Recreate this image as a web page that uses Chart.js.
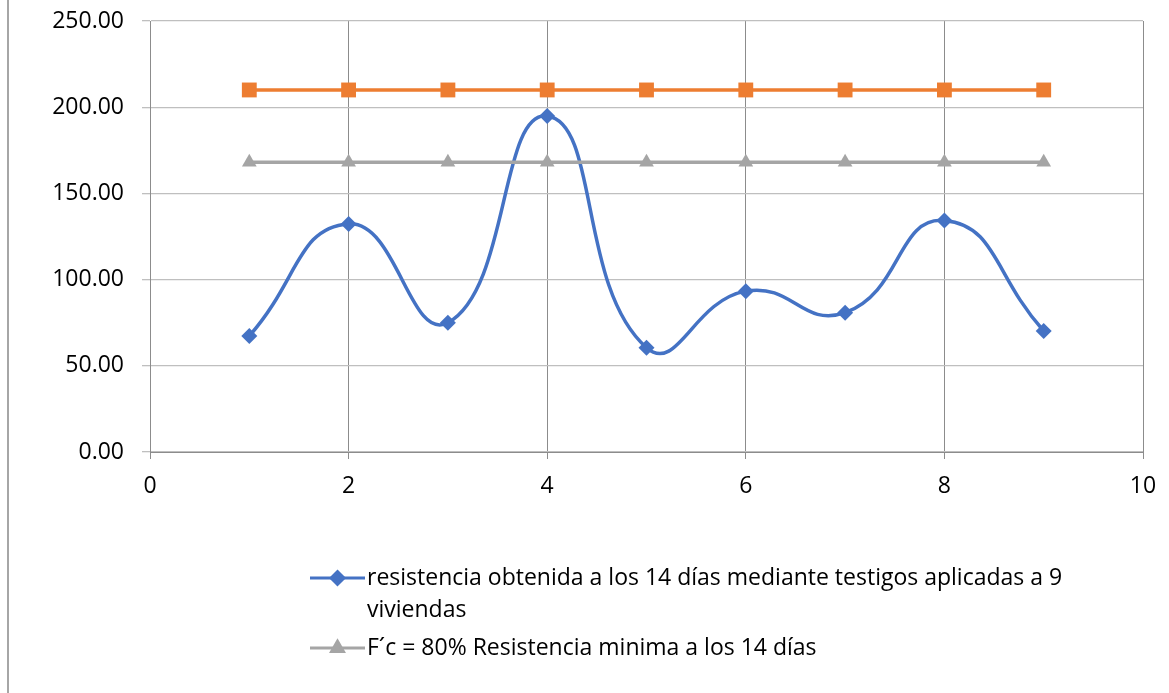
<!DOCTYPE html>
<html>
<head>
<meta charset="utf-8">
<script src="https://cdn.jsdelivr.net/npm/chart.js@4/dist/chart.umd.min.js"></script>
<style>
  html, body { margin: 0; padding: 0; background: #fff; }
  #wrap { width: 1169px; height: 693px; position: relative; }
</style>
</head>
<body>
<div id="wrap"><canvas id="c" width="1169" height="693"></canvas></div>
<script>
// Viviendas ensayadas (eje X)
const viviendas = [1, 2, 3, 4, 5, 6, 7, 8, 9];
// Resistencia obtenida a los 14 días (kg/cm²)
const resistencia14 = [67.3, 132.3, 75.0, 194.9, 60.5, 93.3, 80.8, 134.3, 70.2];
// Resistencia de diseño f'c
const resistenciaDiseno = [210, 210, 210, 210, 210, 210, 210, 210, 210];
// 80% de f'c, mínimo exigido a los 14 días
const resistenciaMinima = [168, 168, 168, 168, 168, 168, 168, 168, 168];

const xTicks = [0, 2, 4, 6, 8, 10];
const yTicks = [0, 50, 100, 150, 200, 250];

const labelBlue = 'resistencia obtenida a los 14 días mediante testigos aplicadas a 9 viviendas';
const labelOrange = "F´c = 210 kg/cm²";
const labelGray = 'F´c = 80% Resistencia minima a los 14 días';

const FONT = '"Open Sans", "Noto Sans", sans-serif';
const FONT_SIZE = 23;

function pts(values) {
  return viviendas.map((x, i) => ({ x: x, y: values[i] }));
}

// Marco izquierdo del área del gráfico
const framePlugin = {
  id: 'frame',
  beforeDraw(chart) {
    const ctx = chart.ctx;
    ctx.save();
    ctx.fillStyle = '#ffffff';
    ctx.fillRect(0, 0, chart.width, chart.height);
    ctx.strokeStyle = '#a6a6a6';
    ctx.lineWidth = 2;
    ctx.beginPath();
    ctx.moveTo(8, 0);
    ctx.lineTo(8, chart.height);
    ctx.stroke();
    ctx.restore();
  }
};

// Leyenda inferior con ajuste de línea
const legendPlugin = {
  id: 'wrapLegend',
  afterDraw(chart, args, opts) {
    const ctx = chart.ctx;
    ctx.save();
    ctx.font = FONT_SIZE + 'px ' + FONT;
    ctx.textBaseline = 'middle';
    ctx.textAlign = 'left';
    let y = opts.top;
    const sampleX0 = opts.left, sampleX1 = opts.left + 55;
    const textX = sampleX1 + 2;
    opts.items.forEach(idx => {
      const ds = chart.data.datasets[idx];
      // muestra de línea y marcador
      ctx.strokeStyle = ds.borderColor;
      ctx.lineWidth = 3;
      ctx.beginPath();
      ctx.moveTo(sampleX0, y);
      ctx.lineTo(sampleX1, y);
      ctx.stroke();
      ctx.fillStyle = ds.backgroundColor;
      ctx.strokeStyle = ds.backgroundColor;
      Chart.helpers.drawPoint(ctx, {
        pointStyle: ds.pointStyle,
        radius: ds.pointRadius * 0.8,
        rotation: 0,
        borderWidth: 1
      }, (sampleX0 + sampleX1) / 2, y);
      // texto con ajuste
      const words = ds.label.split(' ');
      const lines = [];
      let cur = '';
      words.forEach(w => {
        const test = cur ? cur + ' ' + w : w;
        if (ctx.measureText(test).width > opts.maxWidth && cur) {
          lines.push(cur);
          cur = w;
        } else {
          cur = test;
        }
      });
      if (cur) lines.push(cur);
      ctx.fillStyle = '#000000';
      lines.forEach((ln, i) => {
        ctx.fillText(ln, textX, y + i * opts.lineGap);
      });
      y += (lines.length - 1) * opts.lineGap + opts.itemGap;
    });
    ctx.restore();
  }
};

const ctx = document.getElementById('c').getContext('2d');
new Chart(ctx, {
  type: 'scatter',
  data: {
    datasets: [
      {
        label: labelBlue,
        data: pts(resistencia14),
        showLine: true,
        borderColor: '#4472C4',
        backgroundColor: '#4472C4',
        borderWidth: 3.5,
        pointStyle: 'rectRot',
        pointRadius: 8,
        pointBorderWidth: 0,
        pointHoverRadius: 8,
        tension: 0.5,
        order: 3
      },
      {
        label: labelOrange,
        data: pts(resistenciaDiseno),
        showLine: true,
        borderColor: '#ED7D31',
        backgroundColor: '#ED7D31',
        borderWidth: 3.5,
        pointStyle: 'rect',
        pointRadius: 10.5,
        pointBorderWidth: 0,
        pointHoverRadius: 10.5,
        tension: 0,
        order: 1
      },
      {
        label: labelGray,
        data: pts(resistenciaMinima),
        showLine: true,
        borderColor: '#A5A5A5',
        backgroundColor: '#A5A5A5',
        borderWidth: 3.5,
        pointStyle: 'triangle',
        pointRadius: 8.5,
        pointBorderWidth: 0,
        pointHoverRadius: 8.5,
        tension: 0,
        order: 2
      }
    ]
  },
  options: {
    responsive: false,
    animation: false,
    events: [],
    layout: { padding: { left: 0, top: 21, right: 26, bottom: 0 } },
    plugins: {
      legend: { display: false },
      tooltip: { enabled: false },
      wrapLegend: { left: 310, top: 578, maxWidth: 730, lineGap: 32, itemGap: 38, items: [0, 2] }
    },
    scales: {
      x: {
        type: 'linear',
        min: xTicks[0],
        max: xTicks[xTicks.length - 1],
        afterBuildTicks(scale) { scale.ticks = xTicks.map(v => ({ value: v })); },
        afterFit(scale) {
          scale.height = 693 - 452;
          scale.paddingRight = 0;
          scale.paddingLeft = 0;
        },
        grid: { color: '#8c8c8c', lineWidth: 1, tickLength: 7, drawTicks: true },
        border: { color: '#8c8c8c', width: 1 },
        ticks: {
          color: '#000000',
          font: { family: FONT, size: FONT_SIZE },
          padding: 14,
          maxRotation: 0,
          callback: v => String(v)
        }
      },
      y: {
        type: 'linear',
        min: yTicks[0],
        max: yTicks[yTicks.length - 1],
        afterBuildTicks(scale) { scale.ticks = yTicks.map(v => ({ value: v })); },
        afterFit(scale) {
          scale.width = 150;
          scale.paddingTop = 0;
          scale.paddingBottom = 0;
        },
        grid: { color: '#bfbfbf', lineWidth: 1.3, tickLength: 8, drawTicks: true },
        border: { color: '#8c8c8c', width: 1 },
        ticks: {
          color: '#000000',
          font: { family: FONT, size: FONT_SIZE },
          padding: 18,
          callback: v => Number(v).toFixed(2)
        }
      }
    }
  },
  plugins: [framePlugin, legendPlugin]
});
</script>
</body>
</html>
